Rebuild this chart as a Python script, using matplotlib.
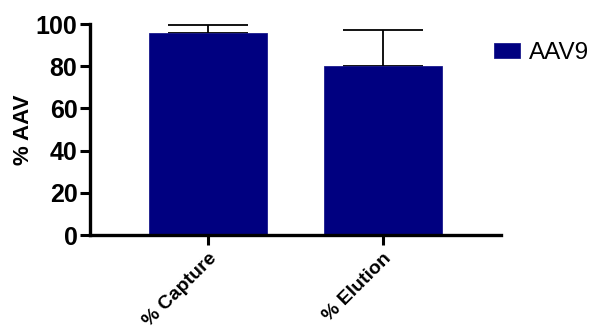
import matplotlib.pyplot as plt
import numpy as np

plt.rcParams['font.family'] = ['Liberation Sans', 'DejaVu Sans']

# mean and upper SD for each measurement
categories = ['% Capture', '% Elution']
means = [95.7, 80.2]
sd = [4.0, 17.0]
series_name = 'AAV9'

bar_color = '#000080'

fig = plt.figure(figsize=(5.9, 3.26), dpi=100)
ax = fig.add_axes([0.1525, 0.279, 0.6965, 0.647])

x = np.arange(len(categories))
ax.bar(x, means, width=0.67, color=bar_color, edgecolor='#1a1a8c',
       linewidth=0.6, label=series_name, zorder=2)
# upper error bars only
ax.errorbar(x, means, yerr=[np.zeros(len(sd)), sd], fmt='none',
            ecolor='black', elinewidth=1.3, capsize=29, capthick=1.3, zorder=1)

ax.set_xlim(-0.674, 1.674)
ax.set_ylim(0, 100)
ax.set_yticks([0, 20, 40, 60, 80, 100])
ax.set_xticks(x)
ax.set_xticklabels(categories, rotation=45, ha='right', rotation_mode='anchor',
                   fontsize=14, fontweight='bold')
ax.set_ylabel('% AAV', fontsize=16, fontweight='bold', labelpad=1)

for lab in ax.get_yticklabels():
    lab.set_fontsize(18)
    lab.set_fontweight('bold')

for side in ['top', 'right']:
    ax.spines[side].set_visible(False)
for side in ['left', 'bottom']:
    ax.spines[side].set_linewidth(2.4)
ax.tick_params(axis='both', width=2.2, length=7, direction='out', colors='black')
ax.tick_params(axis='y', pad=2)
ax.tick_params(axis='x', pad=4)

handles, labels = ax.get_legend_handles_labels()
fig.legend(handles, labels, loc='upper left', bbox_to_anchor=(494 / 590, 0.872),
           frameon=False, fontsize=17.5, borderpad=0, borderaxespad=0,
           handlelength=1.07, handleheight=0.58, handletextpad=0.37)

fig.savefig('out.png', dpi=100)
